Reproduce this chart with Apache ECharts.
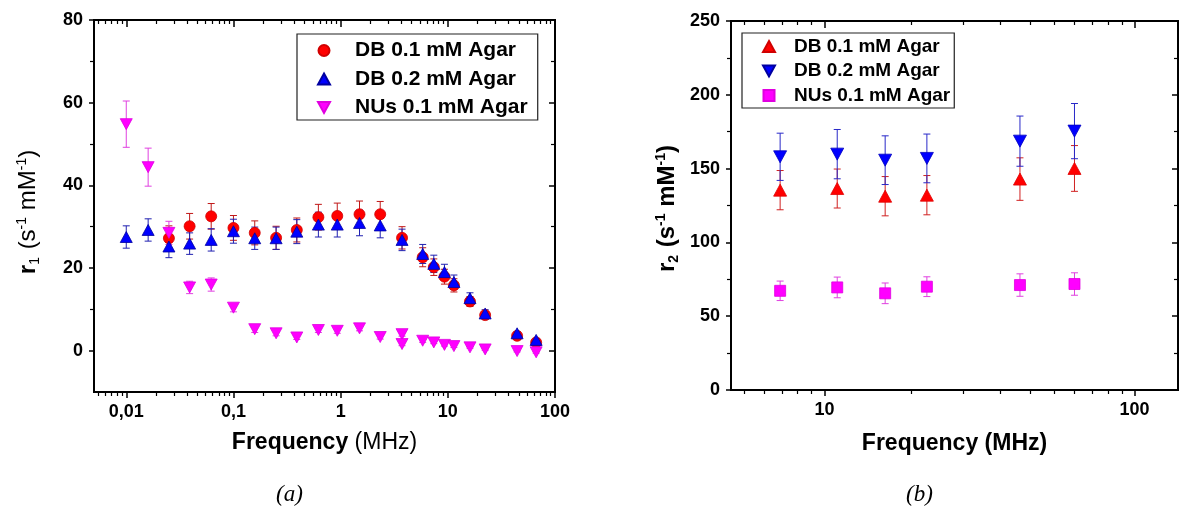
<!DOCTYPE html>
<html>
<head>
<meta charset="utf-8">
<title>Relaxivity vs frequency</title>
<script src="https://cdn.jsdelivr.net/npm/echarts@6.0.0/dist/echarts.min.js"></script>
<style>
  html, body { margin: 0; padding: 0; background: #ffffff; }
  #chart { width: 1179px; height: 513px; }
</style>
</head>
<body>
<div id="chart"></div>
<script>
// ---------- (a) r1 relaxivity, NMRD profile ----------
const r1Freq    = [0.01, 0.016, 0.025, 0.039, 0.062, 0.1, 0.158, 0.25, 0.39, 0.62, 0.93, 1.5, 2.34, 3.74, 5.83, 7.4, 9.3, 11.4, 16.1, 22.3, 44.3, 66.7];
const r1Db01    = [null, null, 27.2, 30.1, 32.5, 29.7, 28.5, 27.3, 29.2, 32.3, 32.6, 33.0, 33.0, 27.3, 22.6, 20.2, 17.9, 15.8, 11.9, 8.6, 3.6, 2.0];
const r1Db01Err = [null, null, 3.0, 3.1, 3.1, 3.0, 2.9, 2.8, 2.9, 3.1, 3.1, 3.2, 3.1, 2.7, 2.3, 2.0, 1.8, 1.6, 1.2, 0.9, 0.4, 0.3];
const r1Db02    = [27.5, 29.2, 25.2, 25.9, 26.8, 28.9, 27.2, 27.2, 28.8, 30.5, 30.5, 30.9, 30.3, 26.8, 23.4, 21.0, 19.0, 16.6, 12.7, 9.0, 4.2, 2.6];
const r1Db02Err = [2.7, 2.7, 2.7, 2.6, 2.7, 2.9, 2.7, 2.7, 2.9, 3.0, 3.0, 3.1, 3.0, 2.6, 2.3, 2.1, 1.9, 1.7, 1.3, 0.9, 0.4, 0.3];
const r1NuFreq  = [0.01, 0.016, 0.025, 0.039, 0.062, 0.1, 0.158, 0.25, 0.39, 0.62, 0.93, 1.5, 2.34, 3.74, 3.74, 5.83, 7.4, 9.3, 11.4, 16.1, 22.3, 44.3, 66.7];
const r1Nu      = [54.8, 44.4, 28.5, 15.3, 16.0, 10.4, 5.2, 4.2, 3.2, 5.0, 4.8, 5.4, 3.3, 4.0, 1.6, 2.4, 2.0, 1.4, 1.1, 0.8, 0.3, -0.1, -0.4];
const r1NuErr   = [5.6, 4.6, 2.8, 1.5, 1.6, 1.0, 0.8, 0.6, 0.5, 0.6, 0.6, 0.6, 0.5, 0.5, 0.4, 0.4, 0.3, 0.3, 0.3, 0.2, 0.2, 0.2, 0.2];

const r1XTicks  = [0.01, 0.1, 1, 10, 100];
const r1XLabels = ['0,01', '0,1', '1', '10', '100'];
const r1YTicks  = [0, 20, 40, 60, 80];
const r1YMinor  = [10, 30, 50, 70];

// ---------- (b) r2 relaxivity ----------
const r2Freq    = [7.2, 11, 15.7, 21.4, 42.7, 64];
const r2Db01    = [135.4, 136.5, 131.3, 132.0, 142.9, 150.1];
const r2Db01Err = [13.3, 13.2, 13.3, 13.3, 14.4, 15.5];
const r2Db02    = [158.0, 159.8, 155.7, 156.9, 168.6, 175.4];
const r2Db02Err = [16.0, 16.7, 16.5, 16.5, 17.0, 18.7];
const r2Nu      = [67.2, 69.5, 65.5, 70.0, 71.1, 71.8];
const r2NuErr   = [6.6, 7.0, 7.0, 6.7, 7.6, 7.6];

const r2XTicks  = [10, 100];
const r2XLabels = ['10', '100'];
const r2YTicks  = [0, 50, 100, 150, 200, 250];
const r2YMinor  = [25, 75, 125, 175, 225];

const seriesNames = ['DB 0.1 mM Agar', 'DB 0.2 mM Agar', 'NUs 0.1 mM Agar'];

// ---------- helpers ----------
const FONT = 'Arial, "Liberation Sans", sans-serif';
const RED = '#ff0000', BLUE = '#0000ff', MAGENTA = '#ff00ff';
const DOWN_TRI = 'path://M0,0L12,0L6,11Z';
const UP_TRI = 'path://M6,0L12,11L0,11Z';
const SQUARE = 'path://M0,0L10,0L10,10L0,10Z';

// minor log ticks placed at 10^n * (1 + 0.9k), k = 1..9, inside [lo, hi]
function logMinorTicks(lo, hi) {
  const out = [];
  for (let n = Math.floor(Math.log10(lo)) - 1; n <= Math.ceil(Math.log10(hi)); n++) {
    for (let k = 1; k <= 9; k++) {
      const v = +(Math.pow(10, n) * (1 + 0.9 * k)).toPrecision(6);
      if (v > lo && v < hi) out.push(v);
    }
  }
  return out;
}

function pairs(xs, ys, es) {
  const out = [];
  xs.forEach((x, i) => {
    if (ys[i] == null) return;
    out.push(es ? [x, ys[i], es[i]] : [x, ys[i]]);
  });
  return out;
}

function labelFor(ticks, texts) {
  return function (v) {
    const i = ticks.findIndex(t => Math.abs(Math.log10(t) - Math.log10(v)) < 1e-6);
    return i >= 0 ? texts[i] : '';
  };
}

function errorBars(name, xs, ys, es, color, xIdx, yIdx) {
  return {
    type: 'custom',
    name: name,
    xAxisIndex: xIdx,
    yAxisIndex: yIdx,
    silent: true,
    data: pairs(xs, ys, es),
    encode: { x: 0, y: 1 },
    renderItem: function (params, api) {
      const x = api.value(0), y = api.value(1), e = api.value(2);
      const top = api.coord([x, y + e]);
      const bot = api.coord([x, y - e]);
      const hw = 3.5;
      const st = { stroke: color, lineWidth: 1 };
      return {
        type: 'group',
        children: [
          { type: 'line', shape: { x1: top[0], y1: top[1], x2: bot[0], y2: bot[1] }, style: st },
          { type: 'line', shape: { x1: top[0] - hw, y1: top[1], x2: top[0] + hw, y2: top[1] }, style: st },
          { type: 'line', shape: { x1: bot[0] - hw, y1: bot[1], x2: bot[0] + hw, y2: bot[1] }, style: st }
        ]
      };
    }
  };
}

function scatter(name, xs, ys, symbol, size, color, edge, xIdx, yIdx, rotate) {
  return {
    type: 'scatter',
    name: name,
    xAxisIndex: xIdx,
    yAxisIndex: yIdx,
    symbol: symbol,
    symbolSize: size,
    symbolRotate: rotate || 0,
    itemStyle: { color: color, borderColor: edge, borderWidth: 0.8, opacity: 1 },
    emphasis: { disabled: true },
    data: pairs(xs, ys)
  };
}

const tickLabelStyle = { color: '#000', fontFamily: FONT, fontWeight: 'bold', fontSize: 18 };
const noLine = { show: false, onZero: false };

// four x axes per panel: major/minor ticks on bottom (outward) and top (inward)
function xAxesFor(gridIndex, min, max, majors, labels, nameRich, nameText, nameGap) {
  const minors = logMinorTicks(min, max);
  const base = {
    gridIndex: gridIndex, type: 'log', logBase: 10, min: min, max: max,
    axisLine: noLine, splitLine: { show: false }, minorTick: { show: false }
  };
  return [
    Object.assign({}, base, {
      position: 'bottom',
      axisTick: { show: true, inside: false, length: 6, customValues: majors, lineStyle: { color: '#000', width: 1.5 } },
      axisLabel: { show: true, customValues: majors, formatter: labelFor(majors, labels), margin: 11, ...tickLabelStyle },
      name: nameText, nameLocation: 'middle', nameGap: nameGap,
      nameTextStyle: { fontFamily: FONT, color: '#000', rich: nameRich }
    }),
    Object.assign({}, base, {
      position: 'bottom',
      axisTick: { show: true, inside: false, length: 4, customValues: minors, lineStyle: { color: '#000', width: 1.2 } },
      axisLabel: { show: false }
    }),
    Object.assign({}, base, {
      position: 'top',
      axisTick: { show: true, inside: true, length: 7, customValues: majors, lineStyle: { color: '#000', width: 1.5 } },
      axisLabel: { show: false }
    }),
    Object.assign({}, base, {
      position: 'top',
      axisTick: { show: true, inside: true, length: 4, customValues: minors, lineStyle: { color: '#000', width: 1.2 } },
      axisLabel: { show: false }
    })
  ];
}

// four y axes per panel: major/minor ticks on left (outward) and right (inward)
function yAxesFor(gridIndex, min, max, majors, minors, nameRich, nameText, nameGap) {
  const base = {
    gridIndex: gridIndex, type: 'value', min: min, max: max,
    axisLine: noLine, splitLine: { show: false }, minorTick: { show: false }
  };
  return [
    Object.assign({}, base, {
      position: 'left',
      axisTick: { show: true, inside: false, length: 5, customValues: majors, lineStyle: { color: '#000', width: 1.5 } },
      axisLabel: { show: true, customValues: majors, margin: 11, ...tickLabelStyle },
      name: nameText, nameLocation: 'middle', nameGap: nameGap, nameRotate: 90,
      nameTextStyle: { fontFamily: FONT, color: '#000', rich: nameRich }
    }),
    Object.assign({}, base, {
      position: 'left',
      axisTick: { show: true, inside: false, length: 4, customValues: minors, lineStyle: { color: '#000', width: 1.2 } },
      axisLabel: { show: false }
    }),
    Object.assign({}, base, {
      position: 'right',
      axisTick: { show: true, inside: true, length: 6, customValues: majors, lineStyle: { color: '#000', width: 1.5 } },
      axisLabel: { show: false }
    }),
    Object.assign({}, base, {
      position: 'right',
      axisTick: { show: true, inside: true, length: 4, customValues: minors, lineStyle: { color: '#000', width: 1.2 } },
      axisLabel: { show: false }
    })
  ];
}

const freqRichA = {
  b: { fontFamily: FONT, fontWeight: 'bold', fontSize: 23, color: '#000' },
  n: { fontFamily: FONT, fontWeight: 'normal', fontSize: 23, color: '#000' }
};
const freqRichB = {
  b: { fontFamily: FONT, fontWeight: 'bold', fontSize: 23, color: '#000' },
  n: { fontFamily: FONT, fontWeight: 'bold', fontSize: 23, color: '#000' }
};
// r_n (s^-1 mM^-1) label pieces; the closing token carries trailing space
// so the visible text sits slightly below the axis middle
function relaxRich(bodyWeight, size, tail) {
  return {
    b:   { fontFamily: FONT, fontWeight: 'bold', fontSize: size, color: '#000' },
    n:   { fontFamily: FONT, fontWeight: bodyWeight, fontSize: size, color: '#000' },
    e:   { fontFamily: FONT, fontWeight: bodyWeight, fontSize: size, color: '#000', padding: [0, tail, 0, 0] },
    sub: { fontFamily: FONT, fontWeight: bodyWeight, fontSize: 14, color: '#000', verticalAlign: 'top', padding: [13, 1, 0, 0] },
    sup: { fontFamily: FONT, fontWeight: bodyWeight, fontSize: 14, color: '#000', verticalAlign: 'bottom', padding: [0, 0, 13, 0] }
  };
}

const option = {
  animation: false,
  backgroundColor: '#ffffff',
  grid: [
    { left: 94, top: 20, width: 461, height: 372, show: true, borderColor: '#000', borderWidth: 2, backgroundColor: 'transparent', containLabel: false, outerBoundsMode: 'none' },
    { left: 731, top: 21, width: 447, height: 369, show: true, borderColor: '#000', borderWidth: 2, backgroundColor: 'transparent', containLabel: false, outerBoundsMode: 'none' }
  ],
  xAxis: [].concat(
    xAxesFor(0, 0.005, 100, r1XTicks, r1XLabels, freqRichA, '{b|Frequency}{n| (MHz)}', 39),
    xAxesFor(1, 5, 138, r2XTicks, r2XLabels, freqRichB, '{b|Frequency}{n| (MHz)}', 42)
  ),
  yAxis: [].concat(
    yAxesFor(0, -10, 80, r1YTicks, r1YMinor, relaxRich('normal', 24, 12), '{b|r}{sub|1}{n| (s}{sup|-1}{n| mM}{sup|-1}{e|)}', 52),
    yAxesFor(1, 0, 250, r2YTicks, r2YMinor, relaxRich('bold', 24, 6), '{b|r}{sub|2}{n| (s}{sup|-1}{n| mM}{sup|-1}{e|)}', 50)
  ),
  legend: [
    {
      orient: 'vertical', left: 297, top: 34,
      padding: [6, 10, 2, 20],
      itemWidth: 12, itemHeight: 11, itemGap: 7.5,
      borderColor: '#222', borderWidth: 1.2, backgroundColor: '#fff',
      selectedMode: false,
      textStyle: { fontFamily: FONT, fontWeight: 'bold', fontSize: 21, color: '#000', lineHeight: 20, padding: [0, 0, 0, 20] },
      data: [
        { name: seriesNames[0], icon: 'circle' },
        { name: seriesNames[1], icon: UP_TRI },
        { name: seriesNames[2], icon: DOWN_TRI }
      ]
    },
    {
      orient: 'vertical', left: 742, top: 33,
      padding: [4, 4, 3, 20],
      itemWidth: 12, itemHeight: 11, itemGap: 5.5,
      borderColor: '#222', borderWidth: 1.2, backgroundColor: '#fff',
      selectedMode: false,
      textStyle: { fontFamily: FONT, fontWeight: 'bold', fontSize: 19, color: '#000', lineHeight: 19, padding: [0, 0, 0, 14] },
      data: [
        { name: seriesNames[0], icon: UP_TRI },
        { name: seriesNames[1], icon: DOWN_TRI },
        { name: seriesNames[2], icon: SQUARE }
      ]
    }
  ],
  series: [
    // panel (a): x axis 0, y axis 0
    scatter(seriesNames[0], r1Freq, r1Db01, 'circle', 11, RED, '#d00000', 0, 0),
    errorBars('a-err-0', r1Freq, r1Db01, r1Db01Err, '#c01818', 0, 0),
    scatter(seriesNames[1], r1Freq, r1Db02, 'triangle', [12, 11], BLUE, '#0000a0', 0, 0),
    errorBars('a-err-1', r1Freq, r1Db02, r1Db02Err, '#2020b0', 0, 0),
    scatter(seriesNames[2], r1NuFreq, r1Nu, 'triangle', [12, 11], MAGENTA, '#e000e0', 0, 0, 180),
    errorBars('a-err-2', r1NuFreq, r1Nu, r1NuErr, '#e040e0', 0, 0),
    // panel (b): x axis 4, y axis 4
    scatter(seriesNames[0], r2Freq, r2Db01, 'triangle', [13, 12], RED, '#e00000', 4, 4),
    errorBars('b-err-0', r2Freq, r2Db01, r2Db01Err, '#d02020', 4, 4),
    scatter(seriesNames[1], r2Freq, r2Db02, 'triangle', [13, 12], BLUE, '#0000c0', 4, 4, 180),
    errorBars('b-err-1', r2Freq, r2Db02, r2Db02Err, '#2828c8', 4, 4),
    scatter(seriesNames[2], r2Freq, r2Nu, 'rect', 11, MAGENTA, '#e000e0', 4, 4),
    errorBars('b-err-2', r2Freq, r2Nu, r2NuErr, '#e040e0', 4, 4)
  ],
  graphic: [
    { type: 'text', left: 276, top: 483, style: { text: '(a)', font: 'italic 23px "Liberation Serif", "Times New Roman", serif', fill: '#000' } },
    { type: 'text', left: 906, top: 483, style: { text: '(b)', font: 'italic 23px "Liberation Serif", "Times New Roman", serif', fill: '#000' } }
  ]
};

const chart = echarts.init(document.getElementById('chart'), null, { renderer: 'canvas' });
chart.setOption(option);
</script>
</body>
</html>
